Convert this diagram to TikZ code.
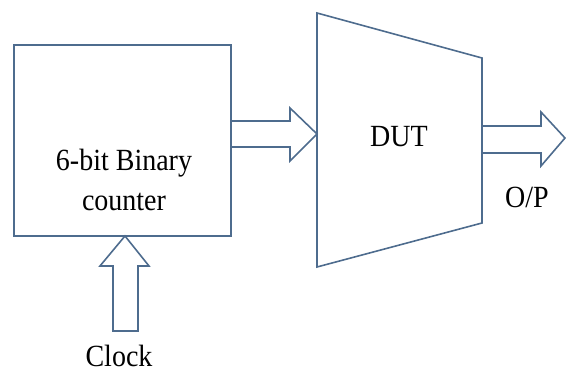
\documentclass[tikz,border=0pt]{standalone}
\usepackage{fontspec}
\setmainfont{Liberation Serif}
\definecolor{edge}{RGB}{78,108,142}
\begin{document}
\begin{tikzpicture}[x=1pt,y=-1pt,
  outl/.style={draw=edge,line width=1.6pt,line join=miter},
  lbl/.style={font=\fontsize{28}{36}\selectfont,yscale=1.1,transform shape,align=center,inner sep=0pt}]
\useasboundingbox (0,0) rectangle (566,374);
% counter box
\coordinate (boxnw) at (14,45);
\coordinate (boxse) at (231,236);
\draw[outl] (boxnw) rectangle (boxse);
\node[lbl] (ctr) at (124,180) {6-bit Binary\\counter};
% DUT trapezoid
\coordinate (d1) at (317,13);
\coordinate (d2) at (482,58);
\coordinate (d3) at (482,223);
\coordinate (d4) at (317,267);
\draw[outl] (d1) -- (d2) -- (d3) -- (d4) -- cycle;
\node[lbl] (dut) at (399,137) {DUT};
% arrow counter -> DUT
\draw[outl] (boxse |- 0,121) -- (290,121) -- (290,108) -- (d1 |- 0,134) -- (290,161) -- (290,147) -- (boxse |- 0,147);
% output arrow
\draw[outl] (d2 |- 0,126) -- (541,126) -- (541,112) -- (565,138) -- (541,166) -- (541,153) -- (d2 |- 0,153);
\node[lbl] (op) at (527,197) {O/P};
% clock arrow
\coordinate (ctip) at (125,236);
\draw[outl] (ctip) -- (149,266) -- (138,266) -- (138,331) -- (113,331) -- (113,266) -- (100,266) -- cycle;
\node[lbl] (clk) at (119,356) {Clock};
\end{tikzpicture}
\end{document}
